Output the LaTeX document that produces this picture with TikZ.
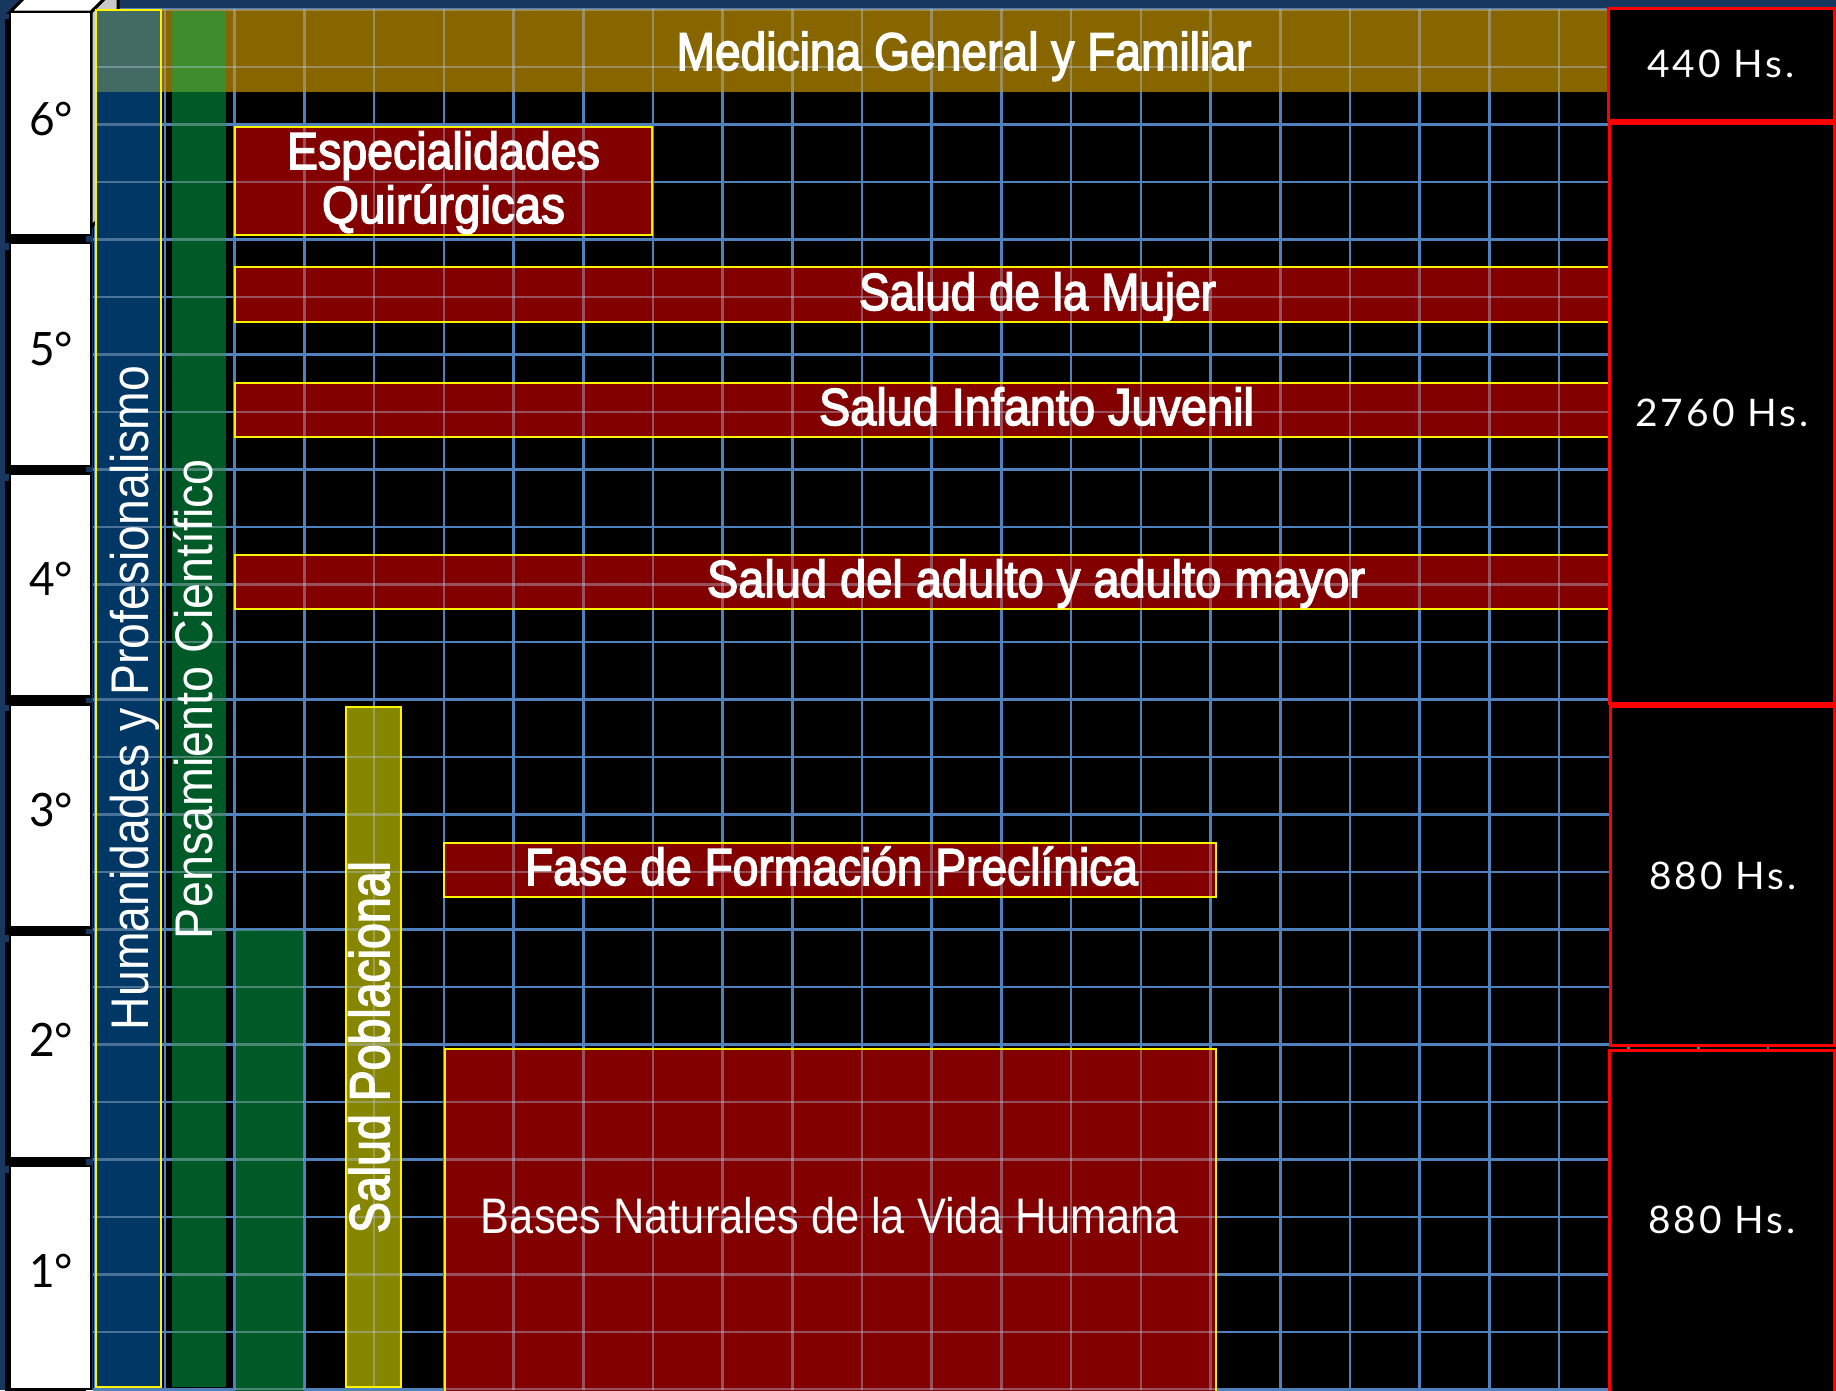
\documentclass[tikz,border=0pt]{standalone}
\usepackage{fontspec}
\usepackage{graphicx}
\setmainfont{Liberation Sans}
\newfontfamily\semib[FakeBold=3]{Liberation Sans}
\newfontfamily\geo{Lato}
\newfontfamily\geosp[LetterSpace=8]{Lato}

\definecolor{navybg}{RGB}{23,55,94}
\definecolor{gridblue}{RGB}{79,129,189}
\definecolor{humblue}{RGB}{0,55,100}
\definecolor{pgreen}{RGB}{0,90,40}
\definecolor{bandbrown}{RGB}{135,102,0}
\definecolor{bandblue}{RGB}{66,107,100}
\definecolor{bandgreen}{RGB}{63,140,45}
\definecolor{boxred}{RGB}{130,0,0}
\definecolor{oliveboxc}{RGB}{134,134,0}
\definecolor{gridtint}{RGB}{185,200,230}
\definecolor{sideface}{RGB}{200,200,200}

\newcommand\fitw[2]{\resizebox{#1pt}{\height}{#2}}

\tikzset{
  lbl/.style={text=white, inner sep=0pt, anchor=base},
  yearlbl/.style={text=black, inner sep=0pt, anchor=base},
  gridline/.style={gridblue, line width=2.6pt},
  tintline/.style={gridtint, line width=2.6pt, opacity=0.4},
  areaborder/.style={draw=yellow, line width=2.6pt},
  hsbox/.style={draw=red, line width=3pt, fill=black},
}

\begin{document}
\begin{tikzpicture}[x=1pt,y=-1pt]
\useasboundingbox (0,0) rectangle (1836,1390);
\begin{scope}
\clip (0,0) rectangle (1836,1390);
% background
\fill[navybg] (0,0) rectangle (1836,1390);
\fill[black] (93,9) rectangle (1836,1390);
% base grid
\foreach \k in {-1,...,23} \draw[gridline] (93,{67+57.5*\k}) -- (1836,{67+57.5*\k});
\foreach \k in {-1,...,23} \draw[gridline] ({165+69.7*\k},9) -- ({165+69.7*\k},1390);

% 3D top of the year column
\filldraw[fill=sideface, draw=black, line width=3pt] (91,12) -- (118,-15) -- (118,200) -- (91,227) -- cycle;
\filldraw[fill=white, draw=black, line width=3pt] (10,12) -- (91,12) -- (118,-15) -- (37,-15) -- cycle;

% year boxes
\foreach \i/\t in {0/6,1/5,2/4,3/3,4/2,5/1} {
  \fill[black] (5,{12+230.8*\i+7}) rectangle (86,{12+230.8*\i+231});
  \filldraw[fill=white, draw=black, line width=2.5pt] (10,{12+230.8*\i}) rectangle (91,{12+230.8*\i+223});
  \node[yearlbl] (year\t) at (51,{135+230.4*\i}) {\fitw{44}{\fontsize{46}{50}\selectfont\geo \t°}};
}

% columns
\fill[humblue] (96,10) rectangle (161,1387);
\fill[pgreen] (172,11) rectangle (226,1387);
\fill[pgreen] (235,930) rectangle (304,1392);
\fill[oliveboxc] (346,707) rectangle (401,1387);
% band
\fill[bandbrown] (96,9) rectangle (1608,92);
\fill[bandblue] (96,9) rectangle (161,92);
\fill[bandgreen] (172,11) rectangle (226,92);
% red boxes
\fill[boxred] (235,127) rectangle (652,235);
\fill[boxred] (235,267) rectangle (1610,322);
\fill[boxred] (235,383) rectangle (1610,437);
\fill[boxred] (235,555) rectangle (1610,609);
\fill[boxred] (444,843) rectangle (1216,897);
\fill[boxred] (445,1049) rectangle (1216,1392);

% tinted grid over the coloured areas
\begin{scope}
\clip (96,9) rectangle (161,1387)
      (172,9) rectangle (226,1387)
      (235,930) rectangle (304,1390)
      (346,707) rectangle (401,1387)
      (96,9) rectangle (1608,92)
      (235,127) rectangle (652,235)
      (235,267) rectangle (1608,322)
      (235,383) rectangle (1608,437)
      (235,555) rectangle (1608,609)
      (444,843) rectangle (1216,897)
      (445,1049) rectangle (1216,1390);
\foreach \k in {-1,...,23} \draw[tintline] (93,{67+57.5*\k}) -- (1836,{67+57.5*\k});
\foreach \k in {-1,...,23} \draw[tintline] ({165+69.7*\k},9) -- ({165+69.7*\k},1390);
\end{scope}

% yellow borders
\draw[areaborder] (96,10) rectangle (161,1387);
\draw[areaborder] (346,707) rectangle (401,1387);
\draw[areaborder] (235,127) rectangle (652,235);
\draw[areaborder] (235,267) rectangle (1610,322);
\draw[areaborder] (235,383) rectangle (1610,437);
\draw[areaborder] (235,555) rectangle (1610,609);
\draw[areaborder] (444,843) rectangle (1216,897);
\draw[areaborder] (445,1049) rectangle (1216,1392);

% right column
\draw[hsbox] (1608,8) rectangle (1834,120);
\draw[hsbox] (1609,123) rectangle (1834,703);
\draw[hsbox] (1610,706) rectangle (1834,1045);
\draw[hsbox] (1609,1050) rectangle (1834,1392);
\end{scope}

% horizontal labels
\node[lbl] (med) at (964,70) {\fitw{575}{\fontsize{53}{60}\selectfont\semib Medicina General y Familiar}};
\node[lbl] (esp1) at (443.5,169) {\fitw{313}{\fontsize{52}{60}\selectfont\semib Especialidades}};
\node[lbl] (esp2) at (443.5,223) {\fitw{243}{\fontsize{52}{60}\selectfont\semib Quirúrgicas}};
\node[lbl] (mujer) at (1037.5,310) {\fitw{357}{\fontsize{52}{60}\selectfont\semib Salud de la Mujer}};
\node[lbl] (infanto) at (1036.5,425) {\fitw{435}{\fontsize{52}{60}\selectfont\semib Salud Infanto Juvenil}};
\node[lbl] (adulto) at (1036,597) {\fitw{658}{\fontsize{52}{60}\selectfont\semib Salud del adulto y adulto mayor}};
\node[lbl] (fase) at (831.5,885) {\fitw{613}{\fontsize{52}{60}\selectfont\semib Fase de Formación Preclínica}};
\node[lbl] (bases) at (830,1233) {\fitw{698}{\fontsize{50}{60}\selectfont Bases Naturales de la Vida Humana}};

% vertical labels
\node[lbl, rotate=90] (hum) at (148,698) {\fitw{664}{\fontsize{53}{60}\selectfont Humanidades y Profesionalismo}};
\node[lbl, rotate=90] (pens) at (212,699) {\fitw{480}{\fontsize{53}{60}\selectfont Pensamiento Científico}};
\node[lbl, rotate=90] (pobl) at (389,1047) {\fitw{372}{\fontsize{56}{60}\selectfont\semib Salud Poblacional}};

% hours
\node[lbl] (h440) at (1721,77) {\fitw{148}{\fontsize{38}{45}\selectfont\geosp 440 Hs.}};
\node[lbl] (h2760) at (1722,426) {\fitw{174}{\fontsize{38}{45}\selectfont\geosp 2760 Hs.}};
\node[lbl] (h880a) at (1723,889) {\fitw{148}{\fontsize{38}{45}\selectfont\geosp 880 Hs.}};
\node[lbl] (h880b) at (1722,1233) {\fitw{148}{\fontsize{38}{45}\selectfont\geosp 880 Hs.}};
\end{tikzpicture}
\end{document}
